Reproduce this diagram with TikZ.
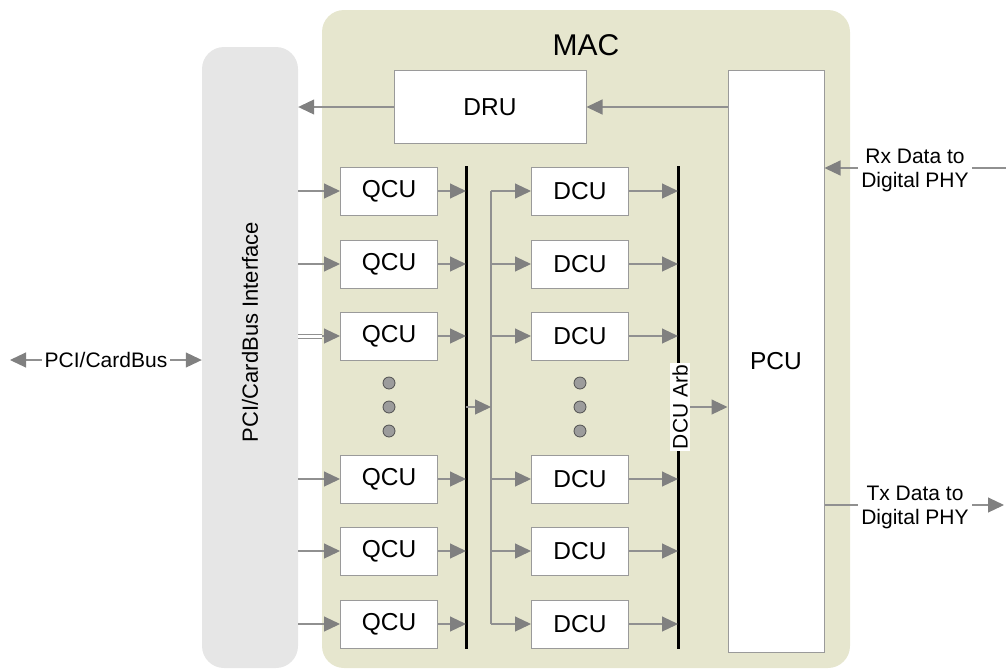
\documentclass[tikz,border=0pt]{standalone}
\usepackage{fontspec}
\setmainfont{Liberation Sans}
\usetikzlibrary{arrows.meta}

\definecolor{macfill}{HTML}{E6E6CE}
\definecolor{pcifill}{HTML}{E6E6E6}
\definecolor{edgegray}{HTML}{9A9A9A}
\definecolor{arrgray}{HTML}{808080}
\definecolor{shaftgray}{HTML}{909090}
\definecolor{dotfill}{HTML}{9C9C9C}
\definecolor{dotedge}{HTML}{505050}

\tikzset{
  unitbox/.style={draw=edgegray, fill=white, line width=1pt, inner sep=0pt,
    font=\fontsize{24.5}{28}\selectfont},
  cu/.style={unitbox, minimum width=97pt, minimum height=48pt},
  tip/.style={Triangle[length=16pt,width=15pt,fill=arrgray,draw=arrgray]},
  flow/.style={draw=shaftgray, line width=1.1pt, -{Triangle[length=16pt,width=15pt,fill=arrgray,color=arrgray]}},
  bidir/.style={draw=shaftgray, line width=1.1pt,
    {Triangle[length=16pt,width=15pt,fill=arrgray,color=arrgray]}-{Triangle[length=16pt,width=15pt,fill=arrgray,color=arrgray]}},
  wire/.style={draw=shaftgray, line width=1.1pt},
  bus/.style={draw=black, line width=3pt},
  lbl/.style={fill=white, inner sep=3pt, align=center,
    font=\fontsize{21}{24}\selectfont},
  dot/.style={circle, draw=dotedge, fill=dotfill, line width=0.8pt,
    minimum size=12pt, inner sep=0pt}
}

\begin{document}
\begin{tikzpicture}[x=1pt, y=-1pt]
\useasboundingbox (0,0) rectangle (1006,670);

% MAC enclosure
\node[draw=none, fill=macfill, rounded corners=22pt, minimum width=528pt,
  minimum height=658pt, inner sep=0pt] (mac) at (586,339) {};
\node[font=\fontsize{30}{34}\selectfont] (mactitle) at (586,45) {MAC};

% host interface column
\node[draw=none, fill=pcifill, rounded corners=22pt, minimum width=96pt,
  minimum height=621pt, inner sep=0pt] (pci) at (250,357.5) {};
\node[rotate=90, font=\fontsize{22}{26}\selectfont] (pcitext) at (250,332)
  {PCI/CardBus Interface};

% DRU and PCU
\node[unitbox, minimum width=192pt, minimum height=73pt] (dru) at (490,107) {DRU};
\node[unitbox, minimum width=96pt, minimum height=582pt] (pcu) at (776,361) {PCU};

% queue and DCF control units
\foreach \i/\y in {1/191, 2/264, 3/336, 4/479, 5/551, 6/624} {
  \node[cu] (q\i) at (389,\y) {QCU};
  \node[cu] (d\i) at (580,\y) {DCU};
}

% ellipsis dots
\foreach \k/\y in {1/383, 2/407, 3/431} {
  \node[dot] (qdot\k) at (389,\y) {};
  \node[dot] (ddot\k) at (580,\y) {};
}

% buses
\coordinate (b1top) at (466,166);
\coordinate (b1bot) at (466,649);
\coordinate (b2top) at (678,166);
\coordinate (b2bot) at (678,649);
\coordinate (dbus) at (491,407);
\draw[bus] (b1top) -- (b1bot);
\draw[bus] (b2top) -- (b2bot);
\draw[wire] (dbus |- d1) -- (dbus |- d6);

% DRU path
\draw[flow] (pcu.west |- dru) -- (dru.east);
\draw[flow] (dru.west) -- (dru.west -| pci.east);

% host to QCUs
\coordinate (macleft) at (322,336);
\foreach \i in {1,2,4,5,6}
  \draw[flow] (pci.east |- q\i) -- (q\i.west);
\draw[draw=shaftgray, line width=1pt, double=white, double distance=3pt]
  (pci.east |- q3) -- (macleft);
\draw[flow] (macleft) -- (q3.west);

% QCUs to bus, bus to DCUs, DCUs to arbiter
\foreach \i in {1,...,6} {
  \draw[flow] (q\i.east) -- (q\i.east -| b1top);
  \draw[flow] (dbus |- d\i) -- (d\i.west);
  \draw[flow] (d\i.east) -- (d\i.east -| b2top);
}
\draw[flow] (b1top |- dbus) -- (dbus);

% arbiter
\node[rotate=90, fill=white, inner sep=2pt, font=\fontsize{21}{24}\selectfont]
  (arb) at (680,407) {DCU Arb};
\draw[flow] (arb.south) -- (arb.south -| pcu.west);

% PHY side
\coordinate (rxin) at (1006,168);
\coordinate (txout) at (1004,505);
\draw[flow] (rxin) -- (rxin -| pcu.east);
\draw[flow] (txout -| pcu.east) -- (txout);
\node[lbl] (rx) at (915,170) {Rx Data to\\Digital PHY};
\node[lbl] (tx) at (915,507) {Tx Data to\\Digital PHY};

% host bus
\coordinate (hostend) at (10,360);
\draw[bidir] (hostend) -- (hostend -| pci.west);
\node[lbl] (host) at (106,360) {PCI/CardBus};
\end{tikzpicture}
\end{document}
